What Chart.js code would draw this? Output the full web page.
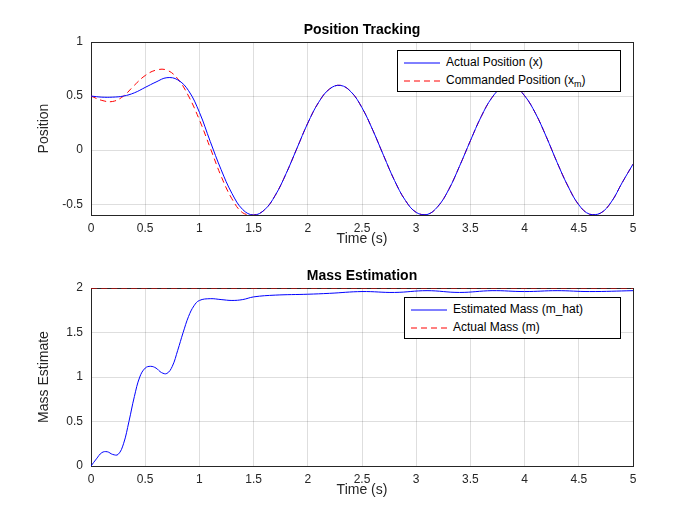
<!DOCTYPE html>
<html>
<head>
<meta charset="utf-8">
<script src="https://cdn.jsdelivr.net/npm/chart.js@4"></script>
<style>
body { margin:0; background:#fff; font-family: Arial, "Liberation Sans", sans-serif; }
#wrap { position:relative; width:700px; height:525px; }
canvas { position:absolute; left:0; }
.title { position:absolute; width:542px; left:91px; text-align:center; font-weight:bold; font-size:14px; color:#000; }
.legend { position:absolute; background:#fff; border:1px solid #000; font-size:12px; padding:2px 6px; }
.legend div { height:18px; line-height:18px; white-space:nowrap; }
.legend svg { vertical-align:middle; margin-right:6px; }
</style>
</head>
<body>
<div id="wrap">
  <canvas id="c1" width="700" height="262" style="top:0"></canvas>
  <canvas id="c2" width="700" height="263" style="top:262px"></canvas>
  <div class="title" style="top:21px">Position Tracking</div>
  <div class="title" style="top:267px">Mass Estimation</div>
  <div class="legend" style="left:397px;top:50px;width:210px">
    <div><svg width="36" height="4"><line x1="0" y1="2" x2="36" y2="2" stroke="#0000ff" stroke-width="1"/></svg>Actual Position (x)</div>
    <div><svg width="36" height="4"><line x1="0" y1="2" x2="36" y2="2" stroke="#ff0000" stroke-width="1" stroke-dasharray="6,4"/></svg>Commanded Position (x<sub style="font-size:9px">m</sub>)</div>
  </div>
  <div class="legend" style="left:404px;top:297px;width:203px">
    <div><svg width="36" height="4"><line x1="0" y1="2" x2="36" y2="2" stroke="#0000ff" stroke-width="1"/></svg>Estimated Mass (m_hat)</div>
    <div><svg width="36" height="4"><line x1="0" y1="2" x2="36" y2="2" stroke="#ff0000" stroke-width="1" stroke-dasharray="6,4"/></svg>Actual Mass (m)</div>
  </div>
</div>
<script>
let timeSteps = [0,0.1,0.2,0.3,0.4,0.5,0.6,0.7,0.8,0.9,1.0,1.1,1.2,1.3,1.4,1.5,1.6,1.7,1.8,1.9,2.0,2.1,2.2,2.3,2.4,2.5,2.6,2.7,2.8,2.9,3.0,3.1,3.2,3.3,3.4,3.5,3.6,3.7,3.8,3.9,4.0,4.1,4.2,4.3,4.4,4.5,4.6,4.7,4.8,4.9,5.0];
let actualPos = [0.50,0.49,0.49,0.50,0.53,0.58,0.63,0.67,0.65,0.55,0.35,0.08,-0.18,-0.40,-0.55,-0.60,-0.553,-0.418,-0.217,0.017,0.250,0.442,0.565,0.599,0.538,0.392,0.184,-0.052,-0.281,-0.465,-0.576,-0.596,-0.521,-0.365,-0.148,0.087,0.311,0.487,0.585,0.591,0.503,0.341,0.124,-0.114,-0.333,-0.506,-0.593,-0.583,-0.479,-0.301,-0.13];
let commandPos = [0.50,0.46,0.45,0.50,0.60,0.69,0.74,0.74,0.66,0.50,0.28,0.02,-0.24,-0.45,-0.58,-0.60,-0.553,-0.418,-0.217,0.017,0.250,0.442,0.565,0.599,0.538,0.392,0.184,-0.052,-0.281,-0.465,-0.576,-0.596,-0.521,-0.365,-0.148,0.087,0.311,0.487,0.585,0.591,0.503,0.341,0.124,-0.114,-0.333,-0.506,-0.593,-0.583,-0.479,-0.301,-0.13];
let massTime = [0,0.05,0.1,0.15,0.2,0.25,0.3,0.35,0.4,0.45,0.5,0.55,0.6,0.65,0.7,0.75,0.8,0.85,0.9,0.95,1.0,1.1,1.2,1.3,1.4,1.5,1.7,2.0,2.2,2.5,2.8,3.1,3.4,3.7,4.0,4.3,4.6,5.0];
let massEst = [0,0.08,0.15,0.16,0.13,0.13,0.25,0.5,0.78,1.0,1.1,1.12,1.1,1.05,1.04,1.12,1.3,1.5,1.68,1.8,1.86,1.88,1.87,1.86,1.87,1.9,1.92,1.93,1.94,1.96,1.95,1.97,1.95,1.97,1.96,1.97,1.96,1.97];
let massTrue = [2,2];
let xTicks = [0,0.5,1,1.5,2,2.5,3,3.5,4,4.5,5];
let posTicks = [-0.5,0,0.5,1];
let massTicks = [0,0.5,1,1.5,2];

const boxPlugin = {
  id: 'box',
  beforeDatasetsDraw(chart) {
    const a = chart.chartArea, c = chart.ctx;
    c.save(); c.strokeStyle = '#262626'; c.lineWidth = 1;
    c.strokeRect(a.left + 0.5, a.top + 0.5, a.right - a.left, a.bottom - a.top);
    c.restore();
  }
};

function pts(xs, ys) { return xs.map((x, i) => ({x: x, y: ys[i]})); }

function makeChart(id, datasets, yMin, yMax, yTicks, yTitle, padTop, padBottom) {
  new Chart(document.getElementById(id), {
    type: 'line',
    data: { datasets: datasets },
    plugins: [boxPlugin],
    options: {
      responsive: false, animation: false,
      layout: { padding: { top: padTop, right: 67, left: 36, bottom: padBottom } },
      plugins: { legend: { display: false }, tooltip: { enabled: false } },
      elements: { point: { radius: 0 }, line: { borderWidth: 1, tension: 0.4 } },
      scales: {
        x: {
          type: 'linear', min: 0, max: 5,
          afterBuildTicks: s => { s.ticks = xTicks.map(v => ({value: v})); },
          afterFit: s => { s.height = 33; },
          grid: { color: 'rgba(0,0,0,0.13)', drawTicks: false },
          border: { display: false },
          ticks: { color: '#262626', font: { size: 12 }, padding: 6, callback: v => String(v) },
          title: { display: true, text: 'Time (s)', color: '#262626', font: { size: 14 }, padding: 0 }
        },
        y: {
          min: yMin, max: yMax,
          afterBuildTicks: s => { s.ticks = yTicks.map(v => ({value: v})); },
          afterFit: s => { s.width = 55; },
          grid: { color: 'rgba(0,0,0,0.13)', drawTicks: false },
          border: { display: false },
          ticks: { color: '#262626', font: { size: 12 }, padding: 8, callback: v => String(v) },
          title: { display: true, text: yTitle, color: '#262626', font: { size: 14 }, padding: 0 }
        }
      }
    }
  });
}

makeChart('c1', [
  { data: pts(timeSteps, actualPos), borderColor: '#0000ff' },
  { data: pts(timeSteps, commandPos), borderColor: '#ff0000', borderDash: [6, 4] }
], -0.6, 1, posTicks, 'Position', 42, 14);

makeChart('c2', [
  { data: pts(massTime, massEst), borderColor: '#0000ff' },
  { data: pts([0, 5], massTrue), borderColor: '#ff0000', borderDash: [6, 4] }
], 0, 2, massTicks, 'Mass Estimate', 26, 26);
</script>
</body>
</html>
